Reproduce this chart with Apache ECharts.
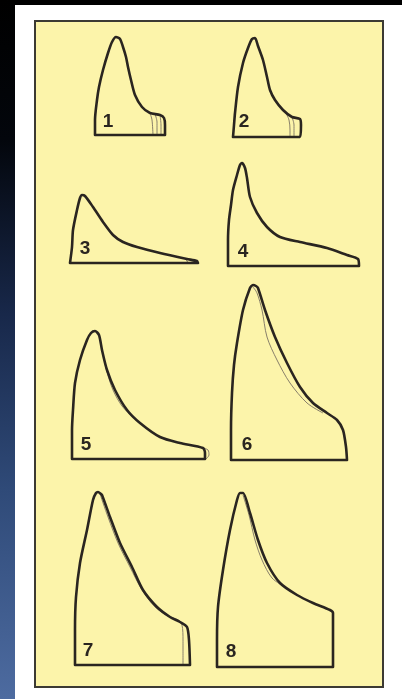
<!DOCTYPE html>
<html>
<head>
<meta charset="utf-8">
<script src="https://cdn.jsdelivr.net/npm/echarts@6/dist/echarts.min.js"></script>
<style>
  html, body { margin: 0; padding: 0; background: #ffffff; }
  #chart { width: 402px; height: 699px; }
</style>
</head>
<body>
<div id="chart"></div>
<script>
// Flow-volume loops (expiratory limb), volume in L, flow in L/s
const panelLabels = ['1', '2', '3', '4', '5', '6', '7', '8'];

const curve1 = [[0,0],[0,1.5],[0.1,3.5],[0.2,4.8],[0.4,6.5],[0.65,8.2],[0.85,9.3],[1.05,9.8],[1.25,9.6],[1.4,8.8],[1.55,7.8],[1.65,6.8],[1.8,5.5],[2.0,4.0],[2.35,2.8],[2.75,2.2],[3.25,2.0],[3.45,1.7],[3.5,1.0],[3.5,0],[0,0]];
const curve2 = [[0,0],[0.05,1.2],[0.1,2.4],[0.25,5.0],[0.5,7.4],[0.75,8.9],[0.95,9.8],[1.1,9.9],[1.25,9.1],[1.5,7.7],[1.7,6.0],[1.85,4.7],[2.1,3.7],[2.5,2.7],[2.95,2.0],[3.35,1.8],[3.4,1.2],[3.35,0],[0,0]];
const curve3 = [[0,0],[0.1,1.6],[0.15,3.3],[0.35,5.3],[0.5,6.5],[0.6,6.8],[0.75,6.7],[1.15,5.6],[1.65,4.1],[2.15,2.8],[2.65,2.1],[3.35,1.6],[4.5,1.0],[5.85,0.4],[6.35,0.2],[6.4,0],[0,0]];
const curve4 = [[0,0],[0,2.6],[0.05,4.6],[0.15,6.1],[0.25,7.6],[0.45,9.1],[0.6,10.1],[0.7,10.3],[0.85,9.8],[0.95,8.8],[1.1,6.9],[1.45,5.3],[1.95,3.9],[2.6,2.9],[3.6,2.4],[4.95,1.8],[5.95,1.1],[6.5,0.7],[6.55,0],[0,0]];
const curve5 = [[0,0],[0,2.9],[0.05,4.9],[0.15,7.6],[0.4,9.9],[0.75,11.9],[0.95,12.6],[1.15,12.8],[1.35,12.4],[1.5,10.9],[1.75,8.9],[2.15,6.9],[2.75,4.9],[3.4,3.6],[4.4,2.2],[5.4,1.6],[6.55,1.1],[6.65,0.6],[6.65,0],[0,0]];
const curve6 = [[0,0],[0,3.0],[0.05,6.7],[0.15,9.5],[0.3,11.7],[0.6,15.0],[0.95,17.2],[1.1,17.5],[1.25,17.4],[1.35,17.2],[1.7,15.0],[2.2,12.3],[2.8,9.7],[3.45,7.3],[4.1,5.7],[4.8,4.7],[5.3,4.0],[5.6,3.0],[5.75,1.3],[5.8,0],[0,0]];
const curve7 = [[0,0],[0,3.5],[0.05,6.8],[0.25,10.2],[0.6,13.5],[0.9,16.5],[1.05,17.2],[1.15,17.3],[1.3,17.1],[1.35,17.0],[1.75,14.8],[2.25,12.2],[2.85,9.8],[3.4,7.5],[4.1,5.8],[4.75,4.8],[5.25,4.3],[5.6,3.8],[5.7,2.5],[5.75,0],[0,0]];
const curve8 = [[0,0],[0,2.7],[0.05,6.0],[0.3,9.7],[0.65,13.7],[1.0,16.7],[1.15,17.4],[1.3,17.4],[1.65,15.4],[2.05,12.7],[2.5,10.4],[3.15,8.4],[4.0,7.2],[4.8,6.4],[5.65,5.7],[5.8,5.4],[5.8,2.7],[5.8,0],[0,0]];

// Repeat manoeuvres (faint traces)
const trials1 = [
  [[2.75,2.2],[2.85,1.5],[2.9,0]],
  [[3.0,2.1],[3.1,1.3],[3.1,0]],
  [[3.25,2.0],[3.3,1.0],[3.3,0]]
];
const trials2 = [
  [[2.6,2.6],[2.8,1.7],[2.85,0.7],[2.85,0]],
  [[2.95,2.0],[3.05,1.2],[3.05,0]]
];
const trials3 = [
  [[5.8,0.4],[5.9,0]]
];
const trials5 = [
  [[1.5,10.9],[1.75,8.7],[2.05,6.9],[2.5,5.3],[3.15,4.0],[3.75,3.1]],
  [[6.55,1.1],[6.8,0.9],[6.85,0.4],[6.7,0]]
];
const trials6 = [
  [[1.1,17.3],[1.3,16.7],[1.55,15.0],[1.8,12.3],[2.3,10.0],[2.95,7.7],[3.8,5.7],[4.6,4.7]]
];
const trials7 = [
  [[1.25,17.1],[1.65,14.8],[2.15,12.2],[2.75,9.8],[3.35,7.5],[4.0,5.8],[4.65,4.9],[5.15,4.5],[5.35,4.0],[5.4,2.5],[5.4,0]]
];
const trials8 = [
  [[1.3,17.2],[1.6,15.2],[1.9,12.7],[2.25,10.7],[2.75,8.9],[3.4,8.0]]
];

const curves = [curve1, curve2, curve3, curve4, curve5, curve6, curve7, curve8];
const trials = [trials1, trials2, trials3, [], trials5, trials6, trials7, trials8];
// Upper flow limit of each small plot's axis
const flowMax = [12, 12, 12, 12, 20, 20, 20, 20];

// Origin (zero volume, zero flow) of each small plot on the page
const origins = [[95,135],[233,137],[70,263],[228,266],[72,459],[231,460],[75,665],[217,667]];
const labelPos = [[108,122],[244,122],[85,249],[243,252],[86,445],[247,445],[88,651],[231,652]];

const PX_PER_L = 20, PX_PER_LS = 10, XMAX = 8;

const grids = [], xAxes = [], yAxes = [], series = [];
origins.forEach(function (o, i) {
  const h = flowMax[i] * PX_PER_LS;
  grids.push({ left: o[0], top: o[1] - h, width: XMAX * PX_PER_L, height: h, containLabel: false });
  xAxes.push({ type: 'value', gridIndex: i, min: 0, max: XMAX, show: false });
  yAxes.push({ type: 'value', gridIndex: i, min: 0, max: flowMax[i], show: false });
  trials[i].forEach(function (t) {
    series.push({ type: 'line', xAxisIndex: i, yAxisIndex: i, data: t, showSymbol: false, clip: false, smooth: 0.3,
      lineStyle: { color: '#7a7262', width: 0.9 }, z: 2, silent: true });
  });
  series.push({ type: 'line', xAxisIndex: i, yAxisIndex: i, data: curves[i], showSymbol: false, clip: false, smooth: 0.25,
    lineStyle: { color: '#2a2520', width: 2.6, join: 'round', cap: 'round' }, z: 3, silent: true });
});

const graphics = [
  { type: 'rect', shape: { x: 0, y: 0, width: 402, height: 5 }, style: { fill: '#000000' }, z: -10 },
  { type: 'rect', shape: { x: 0, y: 0, width: 15, height: 699 }, z: -10,
    style: { fill: new echarts.graphic.LinearGradient(0, 0, 0, 1, [
      { offset: 0, color: '#000000' },
      { offset: 0.2, color: '#03060c' },
      { offset: 0.45, color: '#18284a' },
      { offset: 0.7, color: '#2f4a78' },
      { offset: 1, color: '#4d6ba0' }
    ]) } },
  { type: 'rect', shape: { x: 35, y: 21, width: 348, height: 666 }, z: -5,
    style: { fill: '#fcf4aa', stroke: '#3c3a33', lineWidth: 2 } }
];
panelLabels.forEach(function (t, i) {
  graphics.push({ type: 'text', x: labelPos[i][0], y: labelPos[i][1], z: 10,
    style: { text: t, font: 'bold 19px "Liberation Sans", Arial, sans-serif', fill: '#2a2520', align: 'center', verticalAlign: 'middle' } });
});

const chart = echarts.init(document.getElementById('chart'), null, { renderer: 'canvas' });
chart.setOption({
  backgroundColor: '#ffffff',
  animation: false,
  grid: grids,
  xAxis: xAxes,
  yAxis: yAxes,
  series: series,
  graphic: graphics
});
</script>
</body>
</html>
